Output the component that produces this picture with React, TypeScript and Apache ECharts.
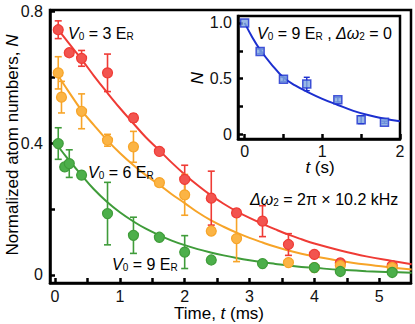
import React, { useEffect, useRef } from "react";
import * as echarts from "echarts";

// ---- main plot data (t in ms, N normalized) ----
const redT = [0.05, 0.22, 0.41, 0.81, 1.21, 1.61, 2.0, 2.41, 2.8, 3.2, 3.6, 4.0, 4.4, 5.2];
const redN = [0.745, 0.675, 0.658, 0.614, 0.477, 0.375, 0.29, 0.233, 0.188, 0.163, 0.092, 0.062, 0.036, 0.028];
const redErr = [0.027, 0.01, 0.024, 0.057, 0.012, 0.01, 0.043, 0.082, 0.01, 0.047, 0.033, 0, 0.005, 0.005];

const orangeT = [0.05, 0.1, 0.41, 0.81, 1.21, 1.61, 2.0, 2.41, 2.8, 3.6, 4.0, 4.4, 5.2];
const orangeN = [0.614, 0.54, 0.497, 0.409, 0.389, 0.28, 0.243, 0.133, 0.11, 0.037, 0.022, 0.028, 0.022];
const orangeErr = [0.049, 0.048, 0.053, 0.018, 0.047, 0.01, 0.062, 0.008, 0.07, 0.01, 0, 0, 0.005];

const greenT = [0.05, 0.15, 0.22, 0.41, 0.81, 1.21, 1.61, 2.0, 2.41, 3.2, 4.0, 4.4, 5.2];
const greenN = [0.399, 0.328, 0.338, 0.303, 0.186, 0.12, 0.114, 0.069, 0.045, 0.034, 0.022, 0.01, 0.007];
const greenErr = [0.048, 0, 0.042, 0, 0.095, 0.055, 0, 0.05, 0, 0, 0, 0, 0];

// fitted curves
const fitT = [0.05, 0.2, 0.41, 0.6, 0.8, 1.0, 1.21, 1.4, 1.6, 1.8, 2.0, 2.2, 2.4, 2.6, 2.8, 3.0, 3.2, 3.4, 3.6, 3.8, 4.0, 4.4, 4.8, 5.2, 5.5];
const redFit = [0.745, 0.707, 0.655, 0.605, 0.555, 0.507, 0.46, 0.418, 0.38, 0.341, 0.305, 0.272, 0.242, 0.216, 0.193, 0.173, 0.155, 0.138, 0.122, 0.108, 0.095, 0.074, 0.056, 0.042, 0.032];
const orangeFit = [0.605, 0.56, 0.5, 0.455, 0.41, 0.37, 0.333, 0.303, 0.275, 0.245, 0.218, 0.19, 0.166, 0.146, 0.128, 0.112, 0.098, 0.085, 0.074, 0.064, 0.056, 0.042, 0.031, 0.022, 0.016];
const greenFit = [0.39, 0.352, 0.303, 0.26, 0.222, 0.19, 0.162, 0.14, 0.121, 0.104, 0.09, 0.078, 0.068, 0.059, 0.051, 0.044, 0.038, 0.033, 0.028, 0.024, 0.021, 0.015, 0.011, 0.008, 0.006];

// ---- inset data (t in s) ----
const insetT = [0, 0.2, 0.5, 0.8, 1.2, 1.5, 1.8];
const insetN = [1.0, 0.745, 0.495, 0.453, 0.312, 0.133, 0.11];
const insetErr = [0, 0.02, 0.02, 0.06, 0.02, 0.035, 0.01];
const insetFitT = [0, 0.1, 0.2, 0.35, 0.5, 0.65, 0.8, 1.0, 1.2, 1.4, 1.6, 1.8, 2.0];
const insetFitN = [1.0, 0.87, 0.76, 0.625, 0.51, 0.44, 0.385, 0.32, 0.265, 0.212, 0.172, 0.142, 0.12];

// ---- ticks ----
const mainXTicks = [0, 0.5, 1, 1.5, 2, 2.5, 3, 3.5, 4, 4.5, 5];
const mainXLabels = [0, 1, 2, 3, 4, 5];
const mainYTicks = [0, 0.2, 0.4, 0.6, 0.8];
const mainYLabels = [0, 0.4, 0.8];
const insetXTicks = [0, 0.5, 1, 1.5, 2];
const insetXLabels = [0, 1, 2];
const insetYTicks = [0, 0.25, 0.5, 0.75, 1.0];
const insetYLabels = [0, 0.5, 1.0];

const FONT = "'Liberation Sans', Arial, Helvetica, sans-serif";
const RED = "#ef3b35";
const RED_FILL = "#f2544f";
const ORANGE = "#f7a428";
const ORANGE_FILL = "#fbb445";
const GREEN = "#3f9c3a";
const GREEN_FILL = "#4caf4a";
const BLUE = "#1c2fcf";
const BLUE_FILL = "#7fa6de";

function pairs(xs: number[], ys: number[]) {
  return xs.map((x, i) => [x, ys[i]]);
}

function errData(xs: number[], ys: number[], es: number[]) {
  const out: number[][] = [];
  xs.forEach((x, i) => {
    if (es[i] > 0) out.push([x, ys[i] - es[i], ys[i] + es[i]]);
  });
  return out;
}

function errSeries(data: number[][], color: string, axis: number, cap: number, lw: number) {
  return {
    type: "custom",
    xAxisIndex: axis,
    yAxisIndex: axis,
    z: 3,
    silent: true,
    clip: false,
    encode: { x: 0, y: [1, 2] },
    data,
    renderItem: (params: any, api: any) => {
      const x = api.value(0);
      const lo = api.coord([x, api.value(1)]);
      const hi = api.coord([x, api.value(2)]);
      const st = { stroke: color, lineWidth: lw };
      return {
        type: "group",
        children: [
          { type: "line", shape: { x1: lo[0], y1: lo[1], x2: hi[0], y2: hi[1] }, style: st },
          { type: "line", shape: { x1: lo[0] - cap, y1: lo[1], x2: lo[0] + cap, y2: lo[1] }, style: st },
          { type: "line", shape: { x1: hi[0] - cap, y1: hi[1], x2: hi[0] + cap, y2: hi[1] }, style: st },
        ],
      };
    },
  };
}

function fitSeries(xs: number[], ys: number[], color: string, axis: number) {
  return {
    type: "line",
    xAxisIndex: axis,
    yAxisIndex: axis,
    data: pairs(xs, ys),
    smooth: 0.4,
    showSymbol: false,
    silent: true,
    z: 2,
    lineStyle: { color, width: 2 },
  };
}

function scatterSeries(xs: number[], ys: number[], fill: string, border: string, axis: number, symbol: string, size: number) {
  return {
    type: "scatter",
    xAxisIndex: axis,
    yAxisIndex: axis,
    data: pairs(xs, ys),
    symbol,
    symbolSize: size,
    silent: true,
    z: 4,
    itemStyle: { color: fill, borderColor: border, borderWidth: 1.2, opacity: 1 },
  };
}

const richBase = {
  n: { fontSize: 16, fontFamily: FONT, color: "#111", lineHeight: 20, verticalAlign: "bottom" },
  i: { fontSize: 16, fontFamily: FONT, color: "#111", fontStyle: "italic", lineHeight: 20, verticalAlign: "bottom" },
  s: { fontSize: 10, fontFamily: FONT, color: "#111", lineHeight: 9, verticalAlign: "bottom" },
};

function label(x: number, y: number, text: string) {
  return {
    type: "text",
    x,
    y,
    z: 10,
    style: { text, rich: richBase, verticalAlign: "middle", align: "left" },
  };
}

function axisCommon(ticks: number[], labels: number[], fmt: (v: number) => string, margin: number) {
  return {
    axisLine: { show: true, onZero: false, lineStyle: { color: "#000", width: 2.5 } },
    axisTick: { show: true, inside: true, length: 5, customValues: ticks, lineStyle: { color: "#000", width: 2.5 } },
    axisLabel: {
      show: true,
      customValues: labels,
      formatter: (v: number) => fmt(v),
      color: "#111",
      fontSize: 16,
      fontFamily: FONT,
      margin,
    },
    splitLine: { show: false },
  };
}

export default function App() {
  const ref = useRef<HTMLDivElement>(null);
  useEffect(() => {
    if (!ref.current) return;
    const chart = echarts.init(ref.current, null, { renderer: "svg" });
    const smallRich = (fs: number, lh: number) => ({
      n: { ...richBase.n, fontSize: fs, lineHeight: lh },
      i: { ...richBase.i, fontSize: fs, lineHeight: lh },
    });
    const option: any = {
      animation: false,
      backgroundColor: "#fff",
      grid: [
        { left: 50, top: 10, width: 361, height: 273, show: true, borderColor: "#000", borderWidth: 2.5, backgroundColor: "transparent", z: 0 },
        { left: 238, top: 16, width: 162, height: 123, show: true, borderColor: "#000", borderWidth: 2.5, backgroundColor: "#fff", z: 5 },
      ],
      xAxis: [
        {
          type: "value", gridIndex: 0, min: -0.077, max: 5.49,
          ...axisCommon(mainXTicks, mainXLabels, (v) => String(v), 5),
        },
        {
          type: "value", gridIndex: 1, min: -0.085, max: 2.0, z: 6,
          ...axisCommon(insetXTicks, insetXLabels, (v) => String(v), 4),
        },
      ],
      yAxis: [
        {
          type: "value", gridIndex: 0, min: -0.025, max: 0.805,
          ...axisCommon(mainYTicks, mainYLabels, (v) => (v === 0 ? "0" : v.toFixed(1)), 7),
        },
        {
          type: "value", gridIndex: 1, min: -0.04, max: 1.062, z: 6,
          ...axisCommon(insetYTicks, insetYLabels, (v) => (v === 0 ? "0" : v.toFixed(1)), 6),
        },
      ],
      series: [
        fitSeries(fitT, redFit, RED, 0),
        fitSeries(fitT, orangeFit, ORANGE, 0),
        fitSeries(fitT, greenFit, GREEN, 0),
        errSeries(errData(redT, redN, redErr), RED, 0, 3.5, 1.6),
        errSeries(errData(orangeT, orangeN, orangeErr), ORANGE, 0, 3.5, 1.6),
        errSeries(errData(greenT, greenN, greenErr), GREEN, 0, 3.5, 1.6),
        scatterSeries(redT, redN, RED_FILL, RED, 0, "circle", 10),
        scatterSeries(orangeT, orangeN, ORANGE_FILL, ORANGE, 0, "circle", 10),
        scatterSeries(greenT, greenN, GREEN_FILL, GREEN, 0, "circle", 10),
        { ...fitSeries(insetFitT, insetFitN, BLUE, 1), z: 6 },
        { ...errSeries(errData(insetT, insetN, insetErr), BLUE, 1, 3, 1.4), z: 7 },
        { ...scatterSeries(insetT, insetN, BLUE_FILL, BLUE, 1, "rect", 8), z: 8, itemStyle: { color: BLUE_FILL, borderColor: BLUE, borderWidth: 1.5 } },
      ],
      graphic: [
        label(68, 31, "{i|V}{s|0}{n| = 3 E}{s|R}"),
        label(88, 170, "{i|V}{s|0}{n| = 6 E}{s|R}"),
        label(112, 262, "{i|V}{s|0}{n| = 9 E}{s|R}"),
        label(250, 197, "{i|Δω}{s|2}{n| = 2π × 10.2 kHz}"),
        label(257, 31, "{i|V}{s|0}{n| = 9 E}{s|R}{n| , }{i|Δω}{s|2}{n| = 0}"),
        {
          type: "text", x: 219, y: 314, z: 10,
          style: { text: "{n|Time, }{i|t}{n| (ms)}", rich: smallRich(17, 15), align: "center", verticalAlign: "middle" },
        },
        {
          type: "text", x: 320, y: 168, z: 10,
          style: { text: "{i|t}{n| (s)}", rich: smallRich(17, 16), align: "center", verticalAlign: "middle" },
        },
        {
          type: "text", x: 197, y: 78, z: 10, rotation: Math.PI / 2,
          style: { text: "{i|N}", rich: smallRich(17, 18), align: "center", verticalAlign: "middle" },
        },
        {
          type: "text", x: 12, y: 145, z: 10, rotation: Math.PI / 2,
          style: { text: "{n|Normalized atom numbers, }{i|N}", rich: smallRich(17, 18), align: "center", verticalAlign: "middle" },
        },
      ],
    };
    chart.setOption(option);
    return () => chart.dispose();
  }, []);
  return <div ref={ref} style={{ position: "fixed", left: 0, top: 0, width: 415, height: 324 }} />;
}
